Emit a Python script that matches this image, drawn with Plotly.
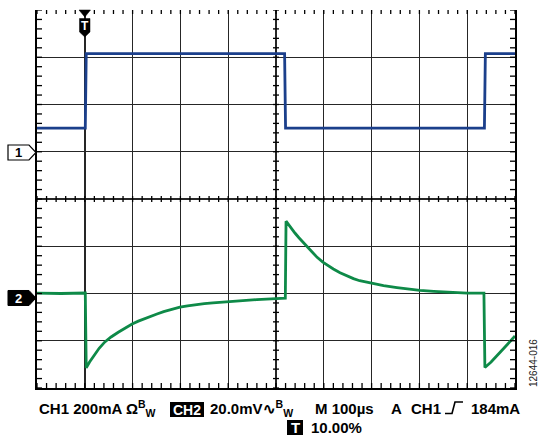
import numpy as np
import plotly.graph_objects as go

# Time base: 100 µs/div, trigger placed at 10 % of the record (t = 0)
time_range_us = [-100, 900]
div_range = [-4, 4]

# CH1: load current, 200 mA/div, reference marker 1 div above centre
ch1_scale_mA, ch1_offset_div = 200, 1
ch1_time_us = [-100, 1, 3, 418, 420, 836, 838, 900]
ch1_current_mA = [100, 100, 415, 415, 100, 100, 415, 415]

# CH2: output voltage deviation, 20 mV/div, reference marker 2 div below centre
ch2_scale_mV, ch2_offset_div = 20, -2
ch2_time_us = [
    -100, -50, 1,
    3, 10, 20, 30, 42, 55, 70, 85, 99, 112, 125, 138, 151, 165, 180, 199, 215,
    230, 250, 268, 285, 300, 330, 360, 390, 418,
    419.5, 421, 425, 429, 435, 440, 448, 456, 465, 475, 486, 498, 510, 520, 534,
    548, 562, 575, 588, 601, 625, 653, 677, 701, 730, 758, 800, 835,
    837, 850, 862, 872, 883, 892, 900,
]
ch2_voltage_mV = [
    0.2, 0.0, 0.2,
    -31.5, -29.0, -26.0, -23.2, -20.5, -18.4, -16.4, -14.5, -12.9, -11.7, -10.6,
    -9.6, -8.7, -7.7, -6.8, -5.8, -5.2, -4.7, -4.3, -4.0, -3.7, -3.5, -3.0,
    -2.6, -2.3, -2.0,
    -2.0, 30.6, 29.5, 28.1, 26.6, 25.5, 23.6, 21.8, 19.7, 17.5, 15.3, 13.3, 11.6,
    10.4, 8.8, 7.4, 6.3, 5.4, 4.8, 4.2, 3.3, 2.5, 1.8, 1.3, 0.9, 0.6, 0.2, 0.2,
    -31.3, -29.0, -26.5, -24.2, -21.8, -19.8, -18.0,
]

# Bottom status read-out
readout_line1 = [
    ("CH1 200mA Ω<sup>B</sup><sub>W</sub>", 37),
    ("20.0mV∿<sup>B</sup><sub>W</sub>", 208),
    ("M 100µs", 313),
    ("A", 389),
    ("CH1", 409),
    ("184mA", 469),
]
readout_line2 = [("10.00%", 309)]
figure_id = "12644-016"

BLUE = "#1b3f8b"
GREEN = "#0e8a48"
GRID = "#262626"
FONT = "Liberation Sans, Arial, sans-serif"

# plot-area geometry in page pixels
PL, PT, PW, PH = 37, 10, 478, 378


def px(x):
    return (x - PL) / PW


def py(y):
    return (PT + PH - y) / PH


fig = go.Figure()

fig.add_trace(go.Scatter(
    x=ch1_time_us, y=ch1_current_mA, yaxis="y2", mode="lines",
    line=dict(color=BLUE, width=2.8), hoverinfo="skip", showlegend=False))

fig.add_trace(go.Scatter(
    x=ch2_time_us, y=ch2_voltage_mV, yaxis="y3", mode="lines",
    line=dict(color=GREEN, width=2.8), hoverinfo="skip", showlegend=False))

ch1_range = [(d - ch1_offset_div) * ch1_scale_mA for d in div_range]
ch2_range = [(d - ch2_offset_div) * ch2_scale_mV for d in div_range]

shapes = []
tick = dict(color="black", width=1.3)

# minor graticule ticks (5 per division)
x_minor = np.arange(time_range_us[0], time_range_us[1] + 1, 20)
y_minor = np.round(np.arange(div_range[0], div_range[1] + 0.01, 0.2), 3)
x_centre = (time_range_us[0] + time_range_us[1]) / 2
for xv in x_minor:
    shapes.append(dict(type="line", xref="x", yref="paper", ysizemode="pixel",
                       yanchor=0, x0=xv, x1=xv, y0=0, y1=5, line=tick))
    shapes.append(dict(type="line", xref="x", yref="paper", ysizemode="pixel",
                       yanchor=1, x0=xv, x1=xv, y0=-4, y1=0, line=tick))
    shapes.append(dict(type="line", xref="x", yref="y", ysizemode="pixel",
                       yanchor=0, x0=xv, x1=xv, y0=-3, y1=3, line=tick))
for yv in y_minor:
    shapes.append(dict(type="line", xref="paper", yref="y", xsizemode="pixel",
                       xanchor=0, x0=0, x1=5, y0=yv, y1=yv, line=tick))
    shapes.append(dict(type="line", xref="paper", yref="y", xsizemode="pixel",
                       xanchor=1, x0=-5, x1=0, y0=yv, y1=yv, line=tick))
    shapes.append(dict(type="line", xref="x", yref="y", xsizemode="pixel",
                       xanchor=x_centre, x0=-3, x1=3, y0=yv, y1=yv, line=tick))


def path(points, close=True):
    d = "M" + " L".join(f"{px(x):.5f},{py(y):.5f}" for x, y in points)
    return d + " Z" if close else d


# channel reference markers
shapes.append(dict(type="path", xref="paper", yref="paper",
                   path=path([(8, 145), (29, 145), (36, 152.5), (29, 160), (8, 160)]),
                   fillcolor="white", line=dict(color="black", width=1.2)))
shapes.append(dict(type="path", xref="paper", yref="paper",
                   path=path([(8, 290.5), (29, 290.5), (36, 298), (29, 305.5), (8, 305.5)]),
                   fillcolor="black", line=dict(color="black", width=1)))

# trigger position marker
shapes.append(dict(type="path", xref="paper", yref="paper",
                   path=path([(79, 10), (90.5, 10), (84.8, 17)]),
                   fillcolor="black", line=dict(color="black", width=0.5)))
shapes.append(dict(type="path", xref="paper", yref="paper",
                   path=path([(79.5, 18.5), (90, 18.5), (90, 32), (84.8, 37), (79.5, 32)]),
                   fillcolor="black", line=dict(color="black", width=0.5)))

# read-out boxes and trigger slope glyph
shapes.append(dict(type="rect", xref="paper", yref="paper",
                   x0=px(170), x1=px(204), y0=py(417), y1=py(402),
                   fillcolor="black", line=dict(width=0)))
shapes.append(dict(type="rect", xref="paper", yref="paper",
                   x0=px(287), x1=px(303), y0=py(435), y1=py(420),
                   fillcolor="black", line=dict(width=0)))
shapes.append(dict(type="path", xref="paper", yref="paper",
                   path=path([(445, 413.5), (452, 413.5), (455, 402), (463, 402)], close=False),
                   line=dict(color="black", width=1.6)))

annotations = []
txt = dict(family=FONT, size=15, color="black")
for text, x in readout_line1:
    annotations.append(dict(text=f"<b>{text}</b>", x=px(x), y=py(408.5),
                            xref="paper", yref="paper", xanchor="left",
                            yanchor="middle", showarrow=False, font=txt))
for text, x in readout_line2:
    annotations.append(dict(text=f"<b>{text}</b>", x=px(x), y=py(427.5),
                            xref="paper", yref="paper", xanchor="left",
                            yanchor="middle", showarrow=False, font=txt))
annotations.append(dict(text="<b>CH2</b>", x=px(187), y=py(409.5), xref="paper",
                        yref="paper", xanchor="center", yanchor="middle",
                        showarrow=False, font=dict(family=FONT, size=14, color="white")))
annotations.append(dict(text="<b>T</b>", x=px(295), y=py(427.5), xref="paper",
                        yref="paper", xanchor="center", yanchor="middle",
                        showarrow=False, font=dict(family=FONT, size=15, color="white")))
annotations.append(dict(text="<b>T</b>", x=px(84.8), y=py(25.5), xref="paper",
                        yref="paper", xanchor="center", yanchor="middle",
                        showarrow=False, font=dict(family=FONT, size=12, color="white")))
annotations.append(dict(text="<b>1</b>", x=px(18.5), y=py(152.5), xref="paper",
                        yref="paper", xanchor="center", yanchor="middle",
                        showarrow=False, font=dict(family=FONT, size=13, color="black")))
annotations.append(dict(text="<b>2</b>", x=px(18.5), y=py(298), xref="paper",
                        yref="paper", xanchor="center", yanchor="middle",
                        showarrow=False, font=dict(family=FONT, size=13, color="white")))
annotations.append(dict(text=figure_id, x=px(533), y=py(363), xref="paper",
                        yref="paper", xanchor="center", yanchor="middle",
                        textangle=-90, showarrow=False,
                        font=dict(family=FONT, size=10, color="#222")))

fig.update_layout(
    width=539, height=439, autosize=False,
    margin=dict(l=PL, r=539 - PL - PW, t=PT, b=439 - PT - PH, pad=0),
    paper_bgcolor="white", plot_bgcolor="white",
    xaxis=dict(range=time_range_us, tickvals=list(range(0, 900, 100)),
               showticklabels=False, ticks="", showgrid=True, gridcolor=GRID,
               gridwidth=1.4, zeroline=False, showline=True, linecolor="black",
               linewidth=2, mirror=False, fixedrange=True),
    yaxis=dict(range=div_range, tickvals=list(range(-3, 4)),
               showticklabels=False, ticks="", showgrid=True, gridcolor=GRID,
               gridwidth=1.4, zeroline=False, showline=True, linecolor="black",
               linewidth=2, mirror=True, fixedrange=True),
    yaxis2=dict(range=ch1_range, overlaying="y", visible=False, fixedrange=True),
    yaxis3=dict(range=ch2_range, overlaying="y", visible=False, fixedrange=True),
    shapes=shapes,
    annotations=annotations,
    showlegend=False,
)

fig.write_html("out.html", config={"displayModeBar": False, "staticPlot": True})
